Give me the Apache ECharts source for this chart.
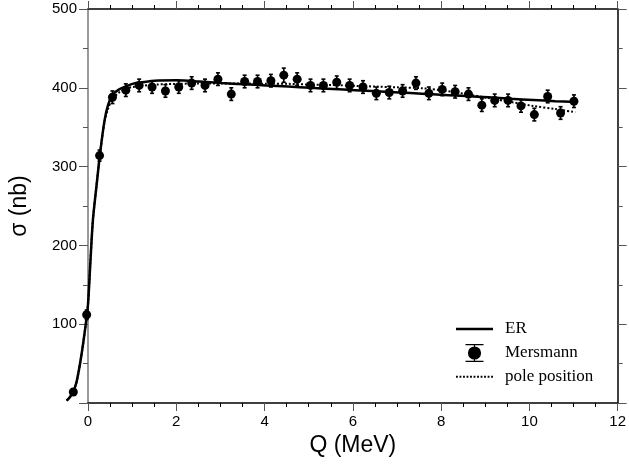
<!DOCTYPE html>
<html>
<head>
<meta charset="utf-8">
<script src="https://cdn.jsdelivr.net/npm/echarts@6/dist/echarts.min.js"></script>
<style>
html,body{margin:0;padding:0;background:#fff;}
#chart{width:629px;height:466px;}
</style>
</head>
<body>
<div id="chart"></div>
<script>
// Mersmann data points
var dataQ = [-0.33, -0.03, 0.26, 0.55, 0.85, 1.15, 1.44, 1.74, 2.04, 2.33, 2.63, 2.92, 3.22, 3.52, 3.81, 4.11, 4.40, 4.70, 5.00, 5.29, 5.59, 5.88, 6.18, 6.48, 6.77, 7.07, 7.37, 7.66, 7.96, 8.25, 8.55, 8.85, 9.14, 9.44, 9.73, 10.03, 10.33, 10.62, 10.92];
var dataSigma = [14, 112, 314, 388, 397, 403, 401, 396, 401, 406, 403, 411, 392, 408, 408, 409, 416, 411, 403, 403, 407, 403, 401, 393, 394, 396, 406, 393, 398, 395, 392, 378, 384, 384, 377, 366, 389, 368, 383];
var dataErr = [4, 6, 7, 8, 8, 8, 8, 8, 8, 8, 8, 8, 8, 8, 8, 8, 9, 8, 8, 8, 8, 8, 8, 8, 8, 8, 8, 8, 8, 8, 8, 8, 8, 8, 8, 8, 8, 8, 8];

// ER curve (solid)
var erQ = [-0.48, -0.40, -0.33, -0.26, -0.15, -0.05, 0.00, 0.05, 0.11, 0.19, 0.27, 0.37, 0.45, 0.55, 0.70, 0.86, 1.00, 1.20, 1.50, 2.00, 2.50, 3.00, 3.50, 4.00, 4.50, 5.00, 5.50, 6.00, 6.50, 7.00, 7.50, 8.00, 8.50, 9.00, 9.50, 10.00, 10.50, 10.95];
var erSigma = [3, 8, 15, 26, 60, 100, 125, 175, 232, 275, 316, 358, 378, 391, 398, 402, 405, 407, 409, 409.5, 408, 406, 404.5, 403, 401.5, 400, 398.5, 397, 395.5, 394, 392.5, 391, 389.5, 388, 386, 384.5, 383, 382];

// pole position curve (dotted)
var poleQ = [-0.48, -0.40, -0.33, -0.26, -0.15, -0.05, 0.00, 0.05, 0.11, 0.19, 0.27, 0.37, 0.45, 0.55, 0.70, 0.86, 1.00, 1.50, 2.00, 2.50, 3.00, 3.50, 4.00, 4.50, 5.00, 5.50, 6.00, 6.50, 7.00, 7.50, 8.00, 8.50, 9.00, 9.50, 10.00, 10.50, 10.95];
var poleSigma = [3, 8, 15, 26, 60, 100, 125, 175, 232, 275, 316, 356, 373, 386, 394, 399, 401, 404, 405, 405.5, 405.5, 405.5, 405, 405, 404, 403.5, 402.5, 401.5, 400.5, 399.5, 396.5, 392, 387, 382, 377, 373, 369];

// axis ticks
var xTicks = [0, 2, 4, 6, 8, 10, 12];
var yTicks = [100, 200, 300, 400, 500];

function zip(a, b) { return a.map(function (v, i) { return [v, b[i]]; }); }

var chart = echarts.init(document.getElementById('chart'), null, {renderer: 'canvas'});

var sansFont = '"Liberation Sans", Arial, Helvetica, sans-serif';
var serifFont = '"Liberation Serif", "Times New Roman", serif';

// legend icons, all in a 37 x 18 box (degenerate corner points fix the box)
var box = 'M0,0 L0.01,0 Z M37,18 L36.99,18 Z ';
var erIcon = 'path://' + box + 'M0,7.7 H37 V10.3 H0 Z';
var dots = '';
for (var dx = 0; dx < 37; dx += 3.6) { dots += 'M' + dx + ',8 H' + (dx + 1.9) + ' V10 H' + dx + ' Z '; }
var poleIcon = 'path://' + box + dots;
var mersIcon = 'path://' + box + 'M9.5,0 H27.5 V1.2 H9.5 Z M9.5,16.8 H27.5 V18 H9.5 Z M17.9,0 H19.1 V18 H17.9 Z M18.5,2.4 A6.6,6.6 0 1 1 18.49,2.4 Z';

var baseX = {
  type: 'value', min: xTicks[0], max: xTicks[xTicks.length - 1], interval: 2,
  splitLine: {show: false},
  minorTick: {show: true, splitNumber: 4, length: 4, lineStyle: {color: '#000', width: 1}},
  axisTick: {show: true, length: 8, lineStyle: {color: '#555', width: 1}},
  axisLine: {show: true, onZero: false, lineStyle: {color: '#000', width: 1.5}}
};
var baseY = {
  type: 'value', min: 0, max: yTicks[yTicks.length - 1], interval: 100,
  splitLine: {show: false},
  minorTick: {show: true, splitNumber: 2, length: 5, lineStyle: {color: '#555', width: 1}},
  axisTick: {show: true, length: 9, lineStyle: {color: '#555', width: 1}},
  axisLine: {show: true, onZero: false, lineStyle: {color: '#777', width: 1.5}}
};

var option = {
  animation: false,
  backgroundColor: '#fff',
  grid: [
    {left: 88, right: 7, top: 9, bottom: 63, containLabel: false},
    // data grid: same scale, extended one unit to the left so negative Q is drawn
    {left: 43.5, right: 7, top: 9, bottom: 63, containLabel: false}
  ],
  xAxis: [
    Object.assign({}, baseX, {
      gridIndex: 0, position: 'bottom',
      name: 'Q (MeV)', nameLocation: 'middle', nameGap: 30,
      nameTextStyle: {fontFamily: sansFont, fontSize: 23, color: '#000'},
      axisLabel: {show: true, margin: 11, fontFamily: sansFont, fontSize: 15, color: '#000',
        formatter: function (v) { return xTicks.indexOf(v) >= 0 ? String(v) : ''; }}
    }),
    Object.assign({}, baseX, {
      gridIndex: 0, position: 'top',
      axisLabel: {show: false},
      axisLine: {show: true, onZero: false, lineStyle: {color: '#000', width: 1.5}}
    }),
    {type: 'value', gridIndex: 1, min: -1, max: 12, show: false}
  ],
  yAxis: [
    Object.assign({}, baseY, {
      gridIndex: 0, position: 'left',
      name: 'σ (nb)', nameLocation: 'middle', nameGap: 57, nameRotate: 90,
      nameTextStyle: {fontFamily: sansFont, fontSize: 23, color: '#000'},
      axisLabel: {show: true, margin: 11, fontFamily: sansFont, fontSize: 15, color: '#000',
        showMinLabel: false,
        formatter: function (v) { return yTicks.indexOf(v) >= 0 ? String(v) : ''; }}
    }),
    Object.assign({}, baseY, {
      gridIndex: 0, position: 'right',
      axisLabel: {show: false},
      axisLine: {show: true, onZero: false, lineStyle: {color: '#000', width: 1.5}}
    }),
    {type: 'value', gridIndex: 1, min: 0, max: 500, show: false}
  ],
  legend: {
    orient: 'vertical', left: 456, top: 320, padding: 0,
    itemWidth: 37, itemHeight: 18, itemGap: 6,
    textStyle: {fontFamily: serifFont, fontSize: 17, color: '#000', padding: [0, 0, 0, 7]},
    data: [
      {name: 'ER', icon: erIcon, itemStyle: {color: '#000', borderWidth: 0}},
      {name: 'Mersmann', icon: mersIcon, itemStyle: {color: '#000', borderWidth: 0}},
      {name: 'pole position', icon: poleIcon, itemStyle: {color: '#000', borderWidth: 0}}
    ]
  },
  series: [
    {
      name: 'ER', type: 'line', xAxisIndex: 2, yAxisIndex: 2,
      data: zip(erQ, erSigma), showSymbol: false, symbol: 'none',
      smooth: 0.3, clip: false, z: 3,
      lineStyle: {color: '#000', width: 2.5}, itemStyle: {color: '#000'}
    },
    {
      name: 'pole position', type: 'line', xAxisIndex: 2, yAxisIndex: 2,
      data: zip(poleQ, poleSigma), showSymbol: false, symbol: 'none',
      smooth: 0.3, clip: false, z: 3,
      lineStyle: {color: '#000', width: 2, type: [2, 2]}, itemStyle: {color: '#000'}
    },
    {
      name: 'Mersmann', type: 'custom', xAxisIndex: 2, yAxisIndex: 2, clip: false, z: 4,
      data: dataQ.map(function (q, i) { return [q, dataSigma[i], dataErr[i]]; }),
      encode: {x: 0, y: 1},
      renderItem: function (params, api) {
        var q = api.value(0), s = api.value(1), e = api.value(2);
        var top = api.coord([q, s + e]);
        var bot = api.coord([q, s - e]);
        var cw = 2;
        var st = {stroke: '#000', lineWidth: 1.6};
        return {
          type: 'group',
          children: [
            {type: 'line', shape: {x1: top[0], y1: top[1], x2: bot[0], y2: bot[1]}, style: st},
            {type: 'line', shape: {x1: top[0] - cw, y1: top[1], x2: top[0] + cw, y2: top[1]}, style: st},
            {type: 'line', shape: {x1: bot[0] - cw, y1: bot[1], x2: bot[0] + cw, y2: bot[1]}, style: st}
          ]
        };
      },
      itemStyle: {color: '#000'}
    },
    {
      name: 'Mersmann', type: 'scatter', xAxisIndex: 2, yAxisIndex: 2,
      data: zip(dataQ, dataSigma), clip: false, z: 5,
      symbol: 'circle', symbolSize: 9, itemStyle: {color: '#000', opacity: 1}
    }
  ]
};
chart.setOption(option);
</script>
</body>
</html>
